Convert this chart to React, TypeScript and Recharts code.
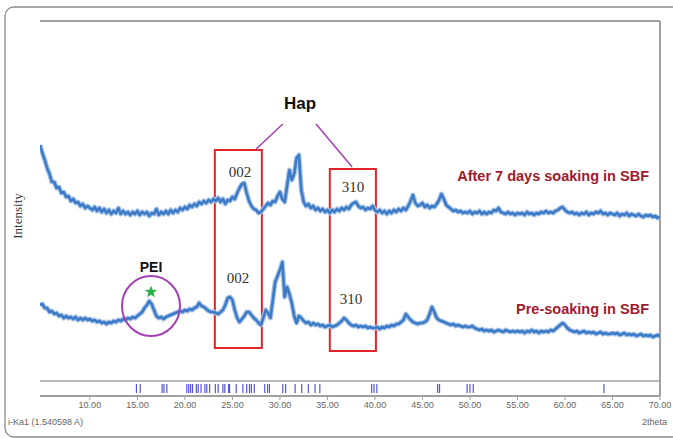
import { ComposedChart, Line, Scatter, XAxis, YAxis, ReferenceLine, ReferenceArea } from 'recharts';

// scan settings: 2theta start / step (deg)
const START = 4.75;
const STEP = 0.25;

// After 7 days soaking in SBF (a.u.), 4.75 .. 70.00
const AFTER_SBF = [
  251,
  243, 236, 228, 222, 214, 214, 208, 209, 203, 204, 199, 200, 195, 197, 193, 194, 190, 192, 188, 190,
  188, 186, 189, 185, 188, 184, 187, 183, 186, 182, 185, 183, 188, 182, 185, 182, 184, 181, 184, 182,
  185, 181, 184, 182, 184, 180, 183, 182, 187, 181, 184, 182, 185, 182, 186, 183, 186, 184, 188, 186,
  189, 187, 191, 189, 192, 190, 194, 192, 195, 193, 196, 194, 197, 195, 198, 194, 197, 192, 196, 195,
  199, 197, 203, 208, 212, 213, 203, 195, 190, 187, 186, 183, 184, 187, 190, 193, 191, 195, 194, 200,
  204, 197, 194, 210, 226, 216, 222, 238, 241, 206, 194, 190, 192, 188, 190, 186, 188, 185, 187, 184,
  186, 183, 186, 184, 187, 185, 188, 186, 189, 187, 191, 193, 194, 190, 188, 189, 186, 188, 187, 190,
  186, 184, 186, 183, 185, 182, 185, 183, 186, 184, 187, 185, 188, 186, 190, 195, 201, 193, 190, 191,
  193, 189, 191, 188, 190, 189, 192, 196, 202, 197, 191, 189, 187, 185, 186, 184, 185, 183, 184, 183,
  185, 182, 184, 183, 185, 182, 184, 182, 184, 183, 186, 185, 188, 184, 183, 182, 184, 182, 183, 181,
  183, 182, 183, 181, 184, 182, 183, 181, 183, 182, 184, 183, 185, 183, 184, 183, 185, 186, 188, 189,
  186, 184, 183, 184, 182, 183, 181, 183, 182, 184, 181, 183, 182, 184, 183, 185, 182, 183, 181, 183,
  182, 181, 183, 180, 182, 181, 183, 180, 182, 181, 180, 182, 180, 179, 181, 180, 181, 179, 180, 178,
  179,
];

// Pre-soaking in SBF (a.u.), 4.75 .. 70.00
const PRE_SBF = [
  91,
  92, 88, 88, 84, 85, 82, 83, 80, 81, 78, 80, 78, 79, 77, 79, 76, 78, 76, 78, 76,
  77, 75, 76, 74, 75, 73, 74, 72, 74, 73, 75, 74, 76, 75, 77, 76, 78, 77, 79, 78,
  80, 82, 84, 88, 91, 95, 92, 86, 80, 78, 79, 77, 79, 80, 81, 82, 83, 84, 85, 84,
  86, 85, 87, 86, 88, 89, 93, 90, 89, 87, 85, 84, 84, 83, 82, 84, 86, 91, 98, 99,
  96, 86, 78, 74, 77, 80, 84, 84, 81, 78, 76, 73, 71, 78, 86, 83, 78, 96, 114, 120,
  126, 134, 99, 109, 102, 93, 80, 73, 80, 78, 75, 73, 74, 71, 73, 71, 72, 70, 71, 69,
  70, 71, 69, 70, 71, 73, 75, 78, 76, 73, 71, 70, 71, 69, 70, 69, 70, 68, 69, 68,
  68, 69, 67, 69, 68, 70, 69, 71, 70, 72, 72, 74, 76, 82, 79, 76, 74, 73, 72, 73,
  73, 74, 76, 82, 89, 84, 78, 76, 75, 74, 73, 72, 71, 72, 70, 71, 70, 69, 70, 69,
  69, 70, 68, 67, 66, 67, 65, 66, 65, 66, 64, 65, 66, 65, 64, 66, 65, 64, 65, 64,
  65, 64, 65, 63, 65, 64, 66, 64, 65, 63, 65, 64, 65, 64, 66, 65, 67, 69, 71, 73,
  71, 68, 66, 65, 64, 65, 63, 64, 65, 63, 64, 63, 64, 62, 63, 64, 62, 63, 62, 62,
  63, 62, 63, 61, 62, 63, 61, 62, 61, 62, 60, 61, 62, 60, 61, 60, 61, 59, 60, 61,
  60,
];

// reference pattern lines (2theta)
const REF_PEAKS = [
  14.9, 15.3, 17.6, 17.8, 18.1, 20.2, 20.4, 20.6, 20.8, 21.2, 21.4, 21.7, 22.1, 22.3, 22.6,
  23.2, 23.5, 24.0, 24.2, 24.6, 24.7, 25.4, 26.1, 26.5, 26.8, 27.0, 27.3, 28.4, 28.7, 28.9,
  30.3, 30.6, 31.6, 32.3, 33.0, 33.7, 34.2, 39.65, 39.9, 40.2, 46.6, 46.8, 49.7, 50.0, 50.35, 64.1,
];

const X_TICKS = [10, 15, 20, 25, 30, 35, 40, 45, 50, 55, 60, 65, 70];

const Y_MAX = 375;
const BAND = 15; // stick-pattern strip under the scan
const STICK_TOP = 12;

const toPoints = (vals: number[]) => vals.map((v, i) => ({ t: START + i * STEP, v }));
const afterPts = toPoints(AFTER_SBF);
const prePts = toPoints(PRE_SBF);
const stickPts = REF_PEAKS.map((t) => ({ t, v: STICK_TOP }));

const Stick = (p: any) => (
  <line x1={p.cx} x2={p.cx} y1={p.cy} y2={p.cy + 9} stroke="#5656d6" strokeWidth={1.2} />
);

const frame = '#a0a0a0';
const sans = '"Liberation Sans", Arial, sans-serif';
const serif = '"Liberation Serif", "DejaVu Serif", serif';
const red = '#e3252b';
const purple = '#a43fb4';
const blue = '#3d7bc6';
const halo = '#a8c4e8';

function star(cx: number, cy: number, r: number) {
  const pts: string[] = [];
  for (let i = 0; i < 10; i++) {
    const a = -Math.PI / 2 + (i * Math.PI) / 5;
    const rr = i % 2 === 0 ? r : r * 0.42;
    pts.push(`${cx + rr * Math.cos(a)},${cy + rr * Math.sin(a)}`);
  }
  return pts.join(' ');
}

export default function App() {
  return (
    <div style={{ position: 'absolute', left: 0, top: 0, width: 673, height: 438, background: '#fff' }}>
      <ComposedChart width={673} height={438} margin={{ top: 21, right: 13, left: 40, bottom: 12 }}>
        <XAxis
          dataKey="t"
          type="number"
          domain={[START, 70]}
          allowDataOverflow
          ticks={X_TICKS}
          tickFormatter={(v: number) => v.toFixed(2)}
          height={30}
          axisLine={{ stroke: frame, strokeWidth: 2 }}
          tickLine={{ stroke: frame }}
          tickSize={4}
          tick={{ fill: '#666', fontSize: 9, fontFamily: sans }}
        />
        <YAxis
          type="number"
          domain={[0, Y_MAX]}
          allowDataOverflow
          width={0}
          tick={false}
          tickLine={false}
          axisLine={{ stroke: frame, strokeWidth: 2 }}
        />
        <ReferenceLine y={Y_MAX} stroke={frame} strokeWidth={2} />
        <ReferenceLine x={70} stroke={frame} strokeWidth={2} />
        <ReferenceLine y={BAND} stroke={frame} strokeWidth={1.5} />

        <ReferenceArea x1={23.15} x2={28.1} y1={48} y2={246} fill="none" stroke={red} strokeWidth={2} ifOverflow="visible" />
        <ReferenceArea x1={35.25} x2={40.1} y1={45} y2={227} fill="none" stroke={red} strokeWidth={2} ifOverflow="visible" />
        <ReferenceLine segment={[{ x: 30.3, y: 272 }, { x: 27.5, y: 247 }]} stroke={purple} strokeWidth={1.5} />
        <ReferenceLine segment={[{ x: 33.8, y: 272 }, { x: 37.6, y: 229 }]} stroke={purple} strokeWidth={1.5} />

        <Scatter data={stickPts} dataKey="v" shape={<Stick />} isAnimationActive={false} />
        <Line data={afterPts} dataKey="v" stroke={halo} strokeWidth={5} dot={false} isAnimationActive={false} strokeLinejoin="round" />
        <Line data={prePts} dataKey="v" stroke={halo} strokeWidth={5} dot={false} isAnimationActive={false} strokeLinejoin="round" />
        <Line data={afterPts} dataKey="v" type="linear" stroke={blue} strokeWidth={2.6} dot={false} isAnimationActive={false} strokeLinejoin="round" />
        <Line data={prePts} dataKey="v" type="linear" stroke={blue} strokeWidth={2.6} dot={false} isAnimationActive={false} strokeLinejoin="round" />
      </ComposedChart>

      <svg width={673} height={438} style={{ position: 'absolute', left: 0, top: 0, pointerEvents: 'none' }}>
        <rect x={5} y={7} width={680} height={430} rx={9} fill="none" stroke="#8a8a8a" strokeWidth={1.3} />
        <text x={22} y={216} transform="rotate(-90 22 216)" textAnchor="middle" fontFamily={serif} fontSize={13} fill="#333">Intensity</text>
        <text x={300} y={109} textAnchor="middle" fontFamily={sans} fontWeight="bold" fontSize={17} fill="#111">Hap</text>
        <text x={240} y={177} textAnchor="middle" fontFamily={serif} fontSize={15} fill="#333">002</text>
        <text x={353} y={192} textAnchor="middle" fontFamily={serif} fontSize={15} fill="#333">310</text>
        <text x={238} y={283} textAnchor="middle" fontFamily={serif} fontSize={15} fill="#333">002</text>
        <text x={351} y={304} textAnchor="middle" fontFamily={serif} fontSize={15} fill="#333">310</text>
        <text x={649} y={181} textAnchor="end" fontFamily={sans} fontWeight="bold" fontSize={14.5} fill="#a3192c">After 7 days soaking in SBF</text>
        <text x={649} y={314} textAnchor="end" fontFamily={sans} fontWeight="bold" fontSize={14.5} fill="#a3192c">Pre-soaking in SBF</text>
        <text x={151} y={272} textAnchor="middle" fontFamily={sans} fontWeight="bold" fontSize={14} fill="#111">PEI</text>
        <ellipse cx={151} cy={306} rx={29} ry={30} fill="none" stroke={purple} strokeWidth={2} />
        <polygon points={star(151, 292, 6.5)} fill="#2bb34a" />
        <text x={8} y={425} fontFamily={sans} fontSize={9} fill="#666">i-Ka1 (1.540598 A)</text>
        <text x={667} y={425} textAnchor="end" fontFamily={sans} fontSize={9} fill="#666">2theta</text>
      </svg>
    </div>
  );
}
